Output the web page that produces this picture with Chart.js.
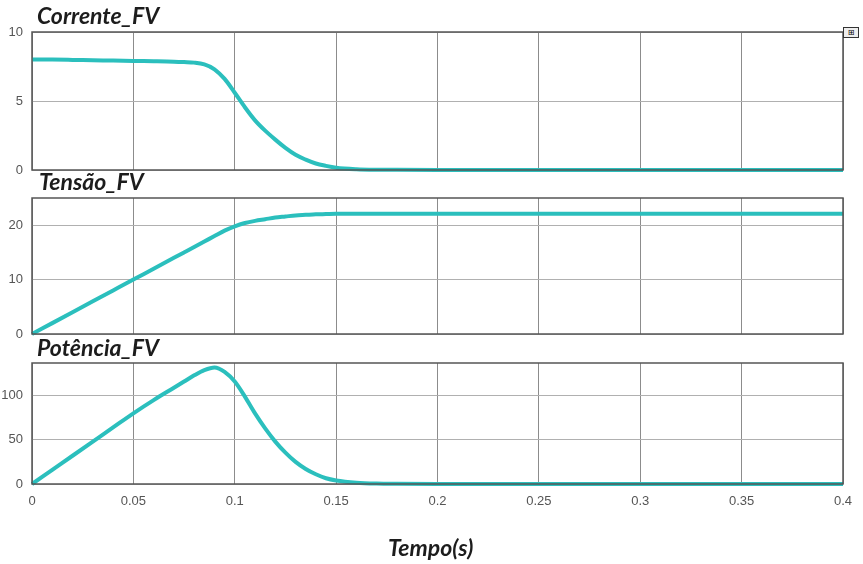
<!DOCTYPE html>
<html>
<head>
<meta charset="utf-8">
<script src="https://cdn.jsdelivr.net/npm/chart.js@4.4.1/dist/chart.umd.min.js"></script>
<style>
    body { margin: 0; background: #fff; }
    #page { position: relative; width: 863px; height: 564px; overflow: hidden; }
    #page canvas { position: absolute; left: 0; top: 0; }
    .titre { position: absolute; font-family: Lato, sans-serif; font-weight: bold; font-style: italic; font-size: 23px; color: #1c1c1c; }
    #icone { position: absolute; left: 843px; top: 27px; width: 14px; height: 9px; border: 1px solid #333; background: #eee; font-size: 8px; line-height: 9px; text-align: center; font-family: "DejaVu Sans"; }
</style>
</head>
<body>
<div id="page">
    <canvas id="c1" width="863" height="564"></canvas>
    <canvas id="c2" width="863" height="564"></canvas>
    <canvas id="c3" width="863" height="564"></canvas>
    <div class="titre" style="left:37px; top:1px;">Corrente_FV</div>
    <div class="titre" style="left:39px; top:167px;">Tensão_FV</div>
    <div class="titre" style="left:37px; top:333px;">Potência_FV</div>
    <div class="titre" style="left:388px; top:533px;">Tempo(s)</div>
    <div id="icone">⊞</div>
</div>
<script>
// temps (s)
const temps = [0, 0.01, 0.02, 0.03, 0.04, 0.05, 0.06, 0.07, 0.075, 0.08, 0.085, 0.09, 0.095, 0.1, 0.105, 0.11,
    0.115, 0.12, 0.125, 0.13, 0.135, 0.14, 0.145, 0.15, 0.16, 0.17, 0.18, 0.2, 0.25, 0.3, 0.35, 0.4];

const corrente = [8.0, 8.0, 7.98, 7.95, 7.93, 7.9, 7.88, 7.85, 7.82, 7.78, 7.65, 7.3, 6.6, 5.6, 4.55, 3.6,
    2.85, 2.2, 1.6, 1.1, 0.75, 0.47, 0.3, 0.17, 0.06, 0.02, 0.01, 0, 0, 0, 0, 0];

const tensao = [0, 2, 4, 6, 8, 10, 12, 14, 15, 16, 17, 18, 19, 19.8, 20.4, 20.8,
    21.1, 21.4, 21.6, 21.8, 21.9, 22.0, 22.05, 22.1, 22.1, 22.1, 22.1, 22.1, 22.1, 22.1, 22.1, 22.1];

const potencia = [0, 16, 32, 48, 64, 80, 95, 109, 116, 123, 129, 132, 127, 116, 99, 80,
    63, 48, 35.5, 25, 17, 11, 6.5, 4, 1.5, 0.5, 0.2, 0, 0, 0, 0, 0];

const xTicks = [0, 0.05, 0.1, 0.15, 0.2, 0.25, 0.3, 0.35, 0.4];
const xLabels = ['0', '0.05', '0.1', '0.15', '0.2', '0.25', '0.3', '0.35', '0.4'];
const yTicksCorrente = [0, 5, 10];
const yTicksTensao = [0, 10, 20];
const yTicksPotencia = [0, 50, 100];

const couleurLigne = '#2bbfbd';

const cadre = {
    id: 'cadre',
    afterDraw(chart) {
        const a = chart.chartArea;
        const ctx = chart.ctx;
        ctx.save();
        ctx.strokeStyle = '#555';
        ctx.lineWidth = 1.5;
        ctx.strokeRect(a.left, a.top, a.right - a.left, a.bottom - a.top);
        ctx.restore();
    }
};

function creerGraphique(id, valeurs, yMax, yTicks, haut, bas, avecLabels) {
    const points = temps.map((t, i) => ({ x: t, y: valeurs[i] }));
    return new Chart(document.getElementById(id), {
        type: 'line',
        data: {
            datasets: [{
                data: points,
                borderColor: couleurLigne,
                borderWidth: 4,
                pointRadius: 0,
                cubicInterpolationMode: 'monotone',
                fill: false,
                clip: 4
            }]
        },
        plugins: [cadre],
        options: {
            responsive: false,
            animation: false,
            layout: { padding: { top: haut, bottom: bas, left: 0, right: 20 } },
            plugins: { legend: { display: false }, tooltip: { enabled: false } },
            scales: {
                x: {
                    type: 'linear',
                    min: 0,
                    max: 0.4,
                    afterBuildTicks: (s) => { s.ticks = xTicks.map(v => ({ value: v })); },
                    afterFit: (s) => { s.height = avecLabels ? 24 : 0; },
                    border: { display: false },
                    grid: { color: '#8c8c8c', drawTicks: false, lineWidth: 1 },
                    ticks: {
                        display: avecLabels,
                        padding: 10,
                        color: '#555',
                        font: { family: 'Liberation Sans', size: 13 },
                        callback: (v, i) => xLabels[i]
                    }
                },
                y: {
                    min: 0,
                    max: yMax,
                    afterBuildTicks: (s) => { s.ticks = yTicks.map(v => ({ value: v })); },
                    afterFit: (s) => { s.width = 32; },
                    border: { display: false },
                    grid: { color: '#b0b0b0', drawTicks: false, lineWidth: 1 },
                    ticks: {
                        padding: 9,
                        color: '#555',
                        font: { family: 'Liberation Sans', size: 13 },
                        callback: (v) => String(v)
                    }
                }
            }
        }
    });
}

creerGraphique('c1', corrente, 10, yTicksCorrente, 32, 564 - 170, false);
creerGraphique('c2', tensao, 25, yTicksTensao, 198, 564 - 334, false);
creerGraphique('c3', potencia, 137, yTicksPotencia, 363, 564 - 484 - 24, true);
</script>
</body>
</html>
